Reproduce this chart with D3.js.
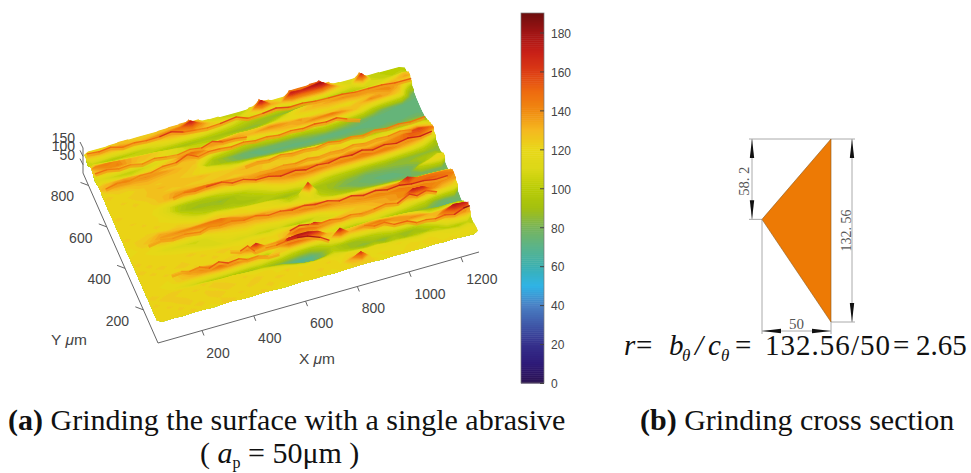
<!DOCTYPE html>
<html>
<head>
<meta charset="utf-8">
<script src="https://cdn.jsdelivr.net/npm/d3@7"></script>
<style>
  html, body { margin: 0; background: #fff; }
  svg { display: block; }
  .tick3d { font-family: "Liberation Sans", Arial, sans-serif; font-size: 14px; fill: #444; }
  .serif { font-family: "Liberation Serif", "Times New Roman", serif; fill: #111; }
  .dim { font-family: "Liberation Serif", serif; font-size: 15px; fill: #555; }
</style>
</head>
<body>
<svg></svg>
<script>
const width = 971;
const height = 473;

/* tick labels */
const xTicks = [200, 400, 600, 800, 1000, 1200];
const yTicks = [200, 400, 600, 800];
const zTicks = [50, 100, 150];
const colorTicks = d3.range(0, 181, 20);

/* colour bar */
const colorValues = [0, 10, 20, 40, 50, 60, 70, 80, 90, 100, 110, 120, 130, 140, 150, 160, 170, 180, 190];
const colorRange = ['#2b1250', '#2e1a78', '#35308c', '#4a80c4', '#2fb4e6', '#3cb0b0', '#5ab48a', '#78b45a', '#a4c010', '#b9cc05',
  '#dcd818', '#e8d818', '#f5b820', '#f08a10', '#ee6a10', '#dc3c14', '#c82018', '#a01414', '#6e0e0e'];

/* extent of the measured surface, um */
const surfaceX = [30, 1270];
const surfaceY = [40, 860];

/* cross section, same units as the drawing */
const sectionWidth = 50;
const sectionHeight = 132.56;
const sectionApex = 58.2;

/* heights, front row first, left column first */
const surfaceHeights = [
  [121,123,120,124,122,119,123,125,121,120,124,122,118,121,123,120,122,119,121,123,124,124,118,122,120,121,119,123,120,122,118,116],
  [123,120,124,122,125,121,123,120,124,122,121,125,120,123,119,122,124,121,120,135,165,119,121,120,118,122,120,121,119,117,118,119],
  [120,124,122,125,121,123,126,122,120,124,123,121,125,122,120,123,121,124,119,122,125,120,117,119,121,118,116,119,117,114,110,113],
  [124,121,125,123,120,124,122,126,123,121,125,122,120,124,121,118,122,119,116,120,117,114,116,112,110,108,106,108,105,100,98,104],
  [122,125,123,121,124,122,125,123,121,124,120,122,119,116,110,104,100,106,110,104,100,96,98,92,96,90,94,92,100,120,135,132],
  [125,122,124,123,121,124,122,120,123,118,115,112,108,102,90,78,74,82,100,94,88,84,88,84,92,88,90,105,128,150,178,172],
  [120,123,118,114,108,104,100,98,96,94,92,96,88,82,72,66,70,84,98,92,88,92,98,108,122,135,140,138,130,132,145,138],
  [122,120,118,125,128,134,140,148,150,142,138,135,128,125,110,100,95,105,122,175,132,138,142,146,140,136,130,125,110,112,115,118],
  [121,123,120,126,136,142,138,132,128,112,104,100,98,125,172,180,178,165,130,122,125,128,130,128,125,122,118,110,100,98,102,100],
  [123,121,124,122,120,124,122,121,123,125,140,170,135,138,140,132,125,122,118,110,100,98,104,108,100,96,92,88,84,76,74,75],
  [122,124,121,123,125,122,120,124,122,121,126,125,120,118,128,155,150,168,145,138,135,130,138,132,128,126,118,110,105,84,76,80],
  [124,122,125,121,123,120,124,122,125,123,120,122,124,121,125,130,128,126,124,128,130,128,126,128,132,136,140,172,168,140,128,120],
  [122,124,120,123,121,125,122,120,118,116,118,119,117,116,118,120,118,112,108,110,118,124,128,132,134,136,140,142,142,142,140,136],
  [124,121,123,122,120,118,116,112,110,112,108,110,106,104,108,100,98,102,112,124,130,134,138,140,142,144,146,148,150,152,150,146],
  [121,123,120,118,116,114,110,108,112,116,118,120,115,118,122,128,134,138,142,144,140,138,140,136,138,140,142,170,148,146,144,140],
  [122,120,118,112,110,108,106,110,118,122,125,128,130,134,138,142,144,142,138,132,128,126,126,124,125,124,122,120,118,122,120,118],
  [118,122,120,125,126,128,126,128,132,138,140,142,138,136,132,128,126,124,122,118,115,112,110,108,106,104,102,98,94,90,86,84],
  [120,125,130,136,138,140,142,144,146,148,138,130,126,124,122,120,118,116,112,108,100,96,92,90,86,84,82,80,78,78,78,80],
  [122,124,126,132,130,128,126,126,128,126,124,122,120,118,116,112,105,110,118,100,94,88,86,80,78,76,74,74,76,105,118,122],
  [124,121,123,122,120,124,122,118,120,122,119,121,118,116,114,108,100,102,168,96,90,84,80,78,76,74,74,76,78,84,98,115],
  [121,123,120,124,122,119,116,112,110,112,108,104,100,98,96,92,88,92,104,92,90,88,84,82,78,80,82,84,86,90,92,95],
  [123,120,124,121,119,116,110,104,100,98,96,94,92,92,96,104,115,120,118,115,105,100,98,95,92,90,92,88,86,84,85,85],
  [120,124,122,123,118,112,104,98,94,92,90,92,94,98,106,120,130,136,140,142,138,136,138,140,142,144,142,140,132,125,112,92],
  [122,120,123,121,116,108,96,90,88,88,86,90,98,108,122,136,144,148,146,144,142,146,144,146,148,144,146,144,146,150,148,115],
  [124,122,120,122,118,110,98,92,92,95,104,114,126,136,142,146,142,138,134,130,128,132,130,136,134,132,134,138,142,155,160,150],
  [121,123,122,120,125,130,138,144,148,150,146,142,138,134,130,128,126,126,124,126,128,126,128,124,126,130,128,126,132,136,140,132],
  [123,120,124,122,126,130,134,132,130,128,128,126,124,126,128,125,126,124,122,124,120,122,124,122,120,118,116,118,122,124,126,120],
  [120,124,122,125,128,126,124,126,125,124,125,126,128,130,128,126,125,128,130,126,124,126,122,118,114,110,108,110,108,108,110,110],
  [122,121,124,123,128,130,128,126,128,130,126,124,122,124,126,128,124,122,124,120,118,115,110,104,100,98,96,94,92,92,95,95],
  [124,122,120,125,127,125,128,126,124,120,118,116,112,110,112,108,106,104,100,96,92,90,88,86,84,82,82,82,82,82,84,84],
  [122,125,126,130,132,130,128,128,126,122,114,108,102,96,92,90,86,84,82,80,78,78,78,76,76,76,76,74,76,74,76,76],
  [132,140,142,138,140,138,136,132,128,125,100,92,88,82,78,76,74,74,74,72,74,72,72,72,72,74,72,72,72,72,72,74],
  [128,132,134,132,130,128,125,126,128,130,118,92,86,80,76,74,76,78,78,80,86,92,100,95,90,84,78,74,72,72,72,72],
  [118,116,112,110,114,118,124,130,140,150,142,126,118,110,100,98,105,115,126,130,134,140,142,146,138,130,118,95,80,76,74,74],
  [112,108,104,102,106,110,115,118,124,128,130,140,144,138,134,130,136,140,138,134,136,130,128,125,128,126,130,140,136,130,120,76],
  [128,138,142,134,128,125,120,115,110,108,106,112,118,124,128,126,125,128,126,122,118,115,118,122,120,118,124,128,134,140,130,90],
  [142,144,140,134,130,128,125,118,112,105,102,100,98,100,102,98,100,105,110,115,122,128,130,134,138,142,144,140,142,138,134,115],
  [125,120,115,112,108,104,100,96,94,90,92,94,92,90,88,86,84,88,95,105,118,124,130,128,126,125,122,118,120,124,128,134],
  [105,100,96,98,100,102,110,118,124,130,134,130,122,115,108,100,94,90,86,84,82,84,88,90,92,96,100,104,108,112,118,128],
  [130,136,134,138,134,132,136,140,144,150,172,140,125,118,115,112,125,176,134,128,172,168,175,182,144,122,112,168,108,104,102,105],
  [120,122,125,128,126,124,125,128,130,132,146,128,112,108,104,102,112,150,128,118,150,146,150,160,130,112,108,140,104,102,100,100]
];

/* thin crest lines on top of the surface, each point is x, y, height */
const crestA = [[150,228,122],[185,218,140],[215,214,132],[250,208,150],[285,200,138],[320,196,165],[355,192,148],[395,190,158],[430,192,136],[470,188,145],[510,186,128],[550,184,132]];
const crestB = [[880,186,150],[915,180,138],[950,172,155],[985,160,142],[1030,146,160],[1065,142,140],[1100,136,150],[1135,132,145],[1170,128,158],[1205,124,150],[1240,120,178],[1265,118,185]];
const crestC = [[387,258,125],[420,240,132],[441,224,172],[470,222,128],[510,218,138],[550,214,142],[588,208,160],[625,200,172],[660,188,180],[704,170,175],[735,166,150]];
const crestD = [[615,250,155],[650,252,168],[690,250,160],[725,252,145],[770,252,150],[810,250,140],[850,250,148],[895,250,135],[940,250,142],[985,252,150],[1030,250,138],[1075,250,172],[1105,250,150],[1140,250,165],[1180,250,140]];
const crestE = [[115,382,125],[160,380,140],[205,376,132],[250,370,145],[309,366,138],[345,372,146],[385,372,135],[430,366,150],[475,362,140],[520,356,155],[565,350,145],[610,344,158],[655,340,150],[700,336,162],[740,332,155],[785,326,165],[830,322,150],[875,316,168],[920,312,155],[965,308,170],[1010,304,160],[1055,300,172],[1100,296,165],[1145,292,170],[1190,290,160],[1235,288,165]];
const crestF = [[270,552,130],[310,546,150],[350,544,142],[395,540,155],[452,538,160],[490,530,148],[530,522,162],[575,512,152],[620,502,165],[665,496,155],[720,490,172],[760,490,158],[805,492,165],[850,494,155],[895,494,168],[940,496,160],[979,496,172],[1020,494,158],[1065,494,170],[1110,492,160],[1155,492,172],[1200,490,165],[1245,490,175]];
const crestG = [[50,664,140],[95,668,148],[140,672,135],[185,676,145],[230,680,138],[275,684,150],[330,690,142],[375,694,165],[415,690,140],[455,692,150],[500,694,145],[545,692,140],[590,690,150],[635,688,142],[680,686,148],[725,684,140],[770,682,150],[815,680,145],[860,678,155],[905,676,150],[945,674,160],[985,670,140],[1030,660,130]];
const crestH = [[35,738,145],[80,738,150],[125,736,138],[170,734,145],[215,732,132],[260,730,148],[305,728,140],[350,726,136],[395,724,150],[440,722,142],[480,720,165],[520,720,145],[565,716,150],[610,714,142]];
const crestI = [[35,830,150],[80,828,145],[125,826,155],[170,822,140],[215,820,150],[260,818,145],[310,812,155],[352,808,170],[400,806,150],[445,804,145],[490,802,140],[540,798,150],[600,796,165],[645,794,140],[700,790,150],[750,786,165],[800,784,150],[850,782,155],[900,780,148],[950,776,150],[1000,772,155],[1050,770,148],[1100,768,150],[1150,764,155],[1200,760,150],[1260,756,155]];
const crestJ = [[560,552,130],[605,550,138],[650,550,132],[695,548,142],[740,546,135],[785,546,145],[830,548,132],[875,548,140],[920,548,134],[965,550,144],[1010,550,132],[1055,550,140],[1100,550,136],[1145,550,146],[1190,550,135]];
const crestK = [[565,598,130],[610,596,140],[655,594,134],[700,594,146],[745,592,136],[790,590,142],[835,590,134],[882,588,148],[925,586,138],[970,586,145],[1015,584,135],[1060,584,148],[1105,582,140],[1150,580,150],[1195,580,142],[1250,578,152]];
const crests = [crestA, crestB, crestC, crestD, crestE, crestF, crestG, crestH, crestI, crestJ, crestK];

const svg = d3.select('svg')
  .attr('width', width)
  .attr('height', height);

const colorScale = d3.scaleLinear().domain(colorValues).range(colorRange);

/* oblique projection of the 3d box, each scale gives one screen offset */
const originX = 158;
const originY = 343;
const xToScreenX = d3.scaleLinear().domain(surfaceX).range([0, 321]);
const xToScreenY = d3.scaleLinear().domain(surfaceX).range([0, -91]);
const yToScreenX = d3.scaleLinear().domain(surfaceY).range([0, -75]);
const yToScreenY = d3.scaleLinear().domain(surfaceY).range([0, -170]);
const zToScreen = d3.scaleLinear().domain([0, 150]).range([0, -25]);

function project(x, y, z) {
  return [
    originX + xToScreenX(x) + yToScreenX(y),
    originY + xToScreenY(x) + yToScreenY(y) + zToScreen(z)
  ];
}

/* axes of the box */
const axisColor = '#666';
const box = svg.append('g').attr('stroke', axisColor).attr('fill', 'none');

[[project(surfaceX[0], surfaceY[0], 0), project(surfaceX[1], surfaceY[0], 0)],
 [project(surfaceX[0], surfaceY[0], 0), project(surfaceX[0], surfaceY[1], 0)],
 [project(surfaceX[0], surfaceY[1], 0), project(surfaceX[0], surfaceY[1], 150)]]
  .forEach(seg => box.append('path').attr('d', d3.line()(seg)));

xTicks.forEach(t => {
  const p = project(t, surfaceY[0], 0);
  box.append('line').attr('x1', p[0]).attr('y1', p[1]).attr('x2', p[0] + 2).attr('y2', p[1] + 5);
  svg.append('text').attr('class', 'tick3d')
    .attr('x', p[0] + (t >= 1000 ? 21 : 16)).attr('y', p[1] + 27)
    .attr('text-anchor', 'middle').text(t);
});

yTicks.forEach(t => {
  const p = project(surfaceX[0], t, 0);
  box.append('line').attr('x1', p[0]).attr('y1', p[1]).attr('x2', p[0] - 8).attr('y2', p[1] - 3);
  svg.append('text').attr('class', 'tick3d')
    .attr('x', p[0] - 26).attr('y', p[1] + 16)
    .attr('text-anchor', 'middle').text(t);
});

zTicks.forEach(t => {
  const p = project(surfaceX[0], surfaceY[1], t);
  box.append('line').attr('x1', p[0]).attr('y1', p[1]).attr('x2', p[0] - 3).attr('y2', p[1] - 6);
  svg.append('text').attr('class', 'tick3d')
    .attr('x', p[0] - 8).attr('y', p[1] - 5)
    .attr('text-anchor', 'end').text(t);
});

function unitLabel(name, x, y) {
  const label = svg.append('text').attr('class', 'tick3d').attr('font-size', 15.5).style('font-size', '15.5px')
    .attr('x', x).attr('y', y).attr('text-anchor', 'middle');
  label.append('tspan').text(name + ' ');
  label.append('tspan').attr('font-style', 'italic').text('\u03bc');
  label.append('tspan').text('m');
}
unitLabel('Y', 69, 345);
unitLabel('X', 317, 364);

/* surface: one filled contour per height, lifted to its own height */
const rows = surfaceHeights.length;
const cols = surfaceHeights[0].length;
const gridToX = d3.scaleLinear().domain([0, cols]).range(surfaceX);
const gridToY = d3.scaleLinear().domain([0, rows]).range(surfaceY);
const levels = d3.range(60, 188, 3);

const contours = d3.contours()
  .size([cols, rows])
  .thresholds(levels)(surfaceHeights.flat());

/* outline of the surface, cuts off the walls the stacked layers would leave */
const frontEdge = d3.range(cols).map(c => project(gridToX(c + 0.5), surfaceY[0], surfaceHeights[0][c]));
const rightEdge = d3.range(rows).map(r => project(surfaceX[1], gridToY(r + 0.5), surfaceHeights[r][cols - 1]));
const leftEdge = d3.range(rows).map(r => project(surfaceX[0], gridToY(r + 0.5), surfaceHeights[r][0]));
const outline = [...frontEdge, ...rightEdge, [rightEdge[rows - 1][0], 0], [leftEdge[rows - 1][0], 0], ...leftEdge.reverse()];

const defs = svg.append('defs');
defs.append('clipPath').attr('id', 'surface-clip')
  .append('polygon').attr('points', outline.join(' '));
defs.append('filter').attr('id', 'soft').attr('x', '-5%').attr('y', '-5%').attr('width', '110%').attr('height', '110%')
  .append('feGaussianBlur').attr('stdDeviation', 0.4);

const surface = svg.append('g').attr('filter', 'url(#soft)')
  .append('g').attr('clip-path', 'url(#surface-clip)');

surface.selectAll('path')
  .data(contours)
  .enter()
  .append('path')
    .attr('fill', d => colorScale(d.value + 1.5))
    .attr('d', d => {
      const lift = d3.geoTransform({
        point(gx, gy) {
          const p = project(gridToX(gx), gridToY(gy), d.value);
          this.stream.point(p[0], p[1]);
        }
      });
      return d3.geoPath(lift)(d);
    });

/* crest lines: a soft orange flank, then each segment in the colour of its height */
crests.forEach(crest => {
  surface.append('path')
    .attr('d', d3.line()(crest.map(p => project(p[0], p[1], p[2] - 10))))
    .attr('fill', 'none')
    .attr('stroke', colorScale(136))
    .attr('stroke-width', 2.6)
    .attr('stroke-linejoin', 'round')
    .attr('opacity', 0.75);
  d3.pairs(crest).forEach(pair => {
    const a = project(...pair[0]);
    const b = project(...pair[1]);
    surface.append('line')
      .attr('x1', a[0]).attr('y1', a[1]).attr('x2', b[0]).attr('y2', b[1])
      .attr('stroke', colorScale((pair[0][2] + pair[1][2]) / 2))
      .attr('stroke-width', 1.4)
      .attr('stroke-linecap', 'round');
  });
});

/* colour bar */
const barLeft = 521;
const barRight = 544;
const barScale = d3.scaleLinear().domain([0, 190]).range([383, 13]);

svg.append('g').selectAll('rect')
  .data(d3.range(0, 190))
  .enter()
  .append('rect')
    .attr('x', barLeft)
    .attr('width', barRight - barLeft)
    .attr('y', d => barScale(d + 1))
    .attr('height', d => barScale(d) - barScale(d + 1) + 0.5)
    .attr('fill', d => colorScale(d + 0.5));

svg.append('rect')
  .attr('x', barLeft).attr('y', barScale(190))
  .attr('width', barRight - barLeft).attr('height', barScale(0) - barScale(190))
  .attr('fill', 'none').attr('stroke', '#777').attr('stroke-width', 0.7);

const barAxis = svg.append('g')
  .attr('transform', `translate(${barRight}, 0)`)
  .call(d3.axisRight(barScale).tickValues(colorTicks).tickSize(-4).tickPadding(7));
barAxis.select('.domain').remove();
barAxis.selectAll('line').attr('stroke', '#444');
barAxis.selectAll('text')
  .attr('font-family', '"Liberation Sans", Arial, sans-serif')
  .attr('font-size', 12)
  .attr('fill', '#444')
  .attr('dy', '0.4em');

/* cross section */
const secX = d3.scaleLinear().domain([0, sectionWidth]).range([762, 831]);
const secY = d3.scaleLinear().domain([0, sectionHeight]).range([139, 322]);

const section = svg.append('g');
const leader = '#aaa';
const dimLeftX = secX(0) - 10;
const dimRightX = secX(sectionWidth) + 21;
const dimBottomY = secY(sectionHeight) + 9;

[[dimLeftX - 3, secY(0), dimRightX + 3, secY(0)],
 [dimLeftX - 3, secY(sectionApex), secX(0), secY(sectionApex)],
 [secX(sectionWidth), secY(sectionHeight), dimRightX + 3, secY(sectionHeight)],
 [secX(0), secY(sectionApex), secX(0), dimBottomY + 3],
 [secX(sectionWidth), secY(sectionHeight), secX(sectionWidth), dimBottomY + 3],
 [dimLeftX, secY(0), dimLeftX, secY(sectionApex)],
 [dimRightX, secY(0), dimRightX, secY(sectionHeight)],
 [secX(0), dimBottomY, secX(sectionWidth), dimBottomY]]
  .forEach(l => section.append('line')
    .attr('x1', l[0]).attr('y1', l[1]).attr('x2', l[2]).attr('y2', l[3])
    .attr('stroke', leader).attr('stroke-width', 1));

section.append('polygon')
  .attr('points', [[0, sectionApex], [sectionWidth, 0], [sectionWidth, sectionHeight]]
    .map(p => [secX(p[0]), secY(p[1])].join(',')).join(' '))
  .attr('fill', '#ed7a05')
  .attr('stroke', '#8a5a20')
  .attr('stroke-width', 0.6);

/* tip, then direction of the arrow body */
function arrow(tx, ty, dx, dy) {
  const nx = dy * 2.2;
  const ny = dx * 2.2;
  section.append('path')
    .attr('d', d3.line()([[tx, ty], [tx + dx * 19 + nx, ty + dy * 19 + ny], [tx + dx * 19 - nx, ty + dy * 19 - ny]]) + 'Z')
    .attr('fill', '#111');
}
arrow(dimLeftX, secY(0), 0, 1);
arrow(dimLeftX, secY(sectionApex), 0, -1);
arrow(dimRightX, secY(0), 0, 1);
arrow(dimRightX, secY(sectionHeight), 0, -1);
arrow(secX(0), dimBottomY, 1, 0);
arrow(secX(sectionWidth), dimBottomY, -1, 0);

section.append('text').attr('class', 'dim')
  .attr('transform', `translate(${dimLeftX - 3}, ${secY(sectionApex / 2) + 2}) rotate(-90)`)
  .attr('text-anchor', 'middle').attr('textLength', 29).attr('lengthAdjust', 'spacingAndGlyphs').text('58. 2');
section.append('text').attr('class', 'dim')
  .attr('transform', `translate(${dimRightX - 1}, ${secY(sectionHeight * 0.5) + 0}) rotate(-90)`)
  .attr('text-anchor', 'middle').attr('textLength', 42).attr('lengthAdjust', 'spacingAndGlyphs').text('132. 56');
section.append('text').attr('class', 'dim')
  .attr('x', secX(sectionWidth / 2)).attr('y', dimBottomY - 2)
  .attr('text-anchor', 'middle').text('50');

/* formula under the section */
const formula = [
  { t: 'r', x: 624, it: true },
  { t: '=', x: 636 },
  { t: 'b', x: 669, it: true },
  { t: '\u03b8', x: 682, it: true, sub: true },
  { t: '/', x: 695, it: true },
  { t: 'c', x: 708, it: true },
  { t: '\u03b8', x: 721, it: true, sub: true },
  { t: '=', x: 735 },
  { t: '132.56/50', x: 765, len: 125 },
  { t: '=', x: 893 },
  { t: '2.65', x: 916 }
];

svg.append('g').selectAll('text')
  .data(formula)
  .enter()
  .append('text')
    .attr('class', 'serif')
    .attr('x', d => d.x)
    .attr('y', d => d.sub ? 361 : 355)
    .attr('font-size', d => d.sub ? 17 : 29)
    .attr('font-style', d => d.it ? 'italic' : 'normal')
    .attr('textLength', d => d.len || null)
    .text(d => d.t);

/* captions */
function caption(x, y, bold, rest) {
  const c = svg.append('text').attr('class', 'serif').attr('x', x).attr('y', y).attr('font-size', 30);
  c.append('tspan').attr('font-weight', 'bold').text(bold);
  c.append('tspan').text(rest);
}
caption(8, 430, '(a)', ' Grinding the surface with a single abrasive');
caption(640, 430, '(b)', ' Grinding cross section');

const sub = svg.append('text').attr('class', 'serif').attr('x', 200).attr('y', 463).attr('font-size', 30);
sub.append('tspan').text('( ');
sub.append('tspan').attr('font-style', 'italic').text('a');
sub.append('tspan').attr('font-size', 16).attr('dy', 5).text('p');
sub.append('tspan').attr('dy', -5).text(' = 50\u03bcm )');
</script>
</body>
</html>
